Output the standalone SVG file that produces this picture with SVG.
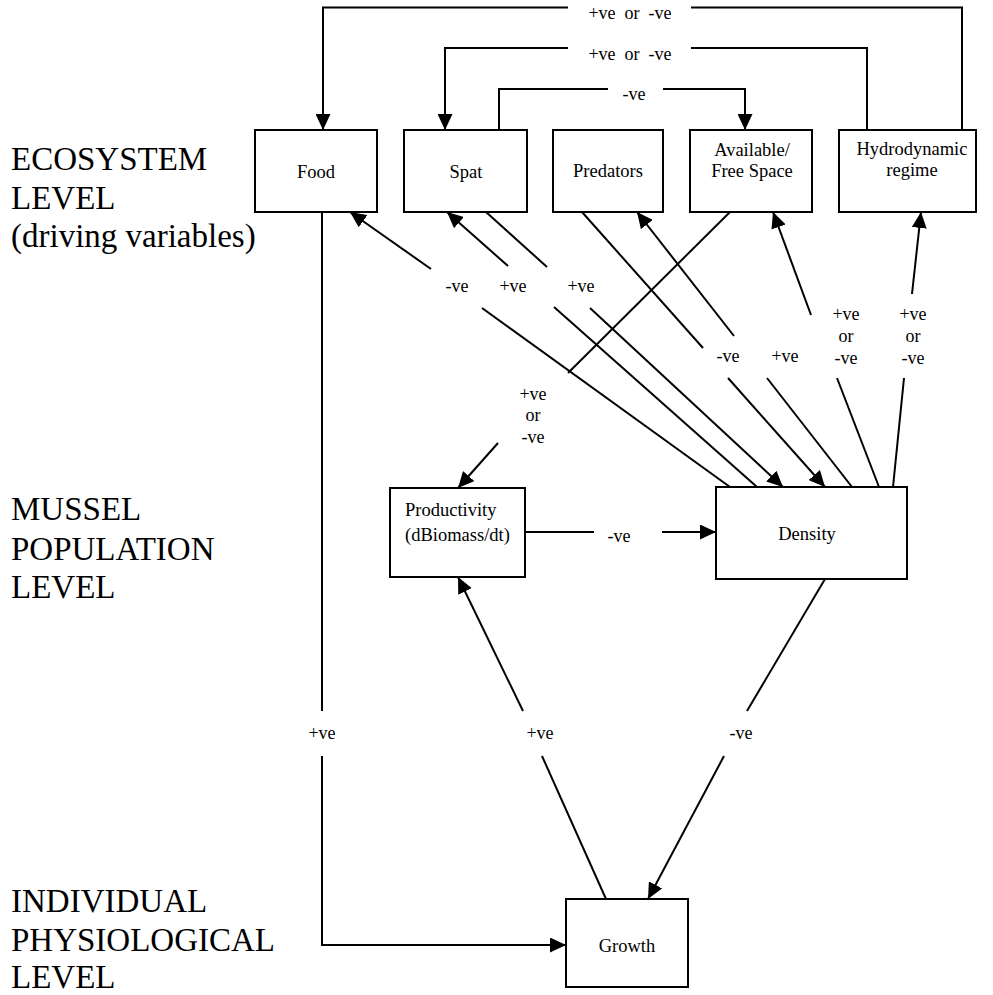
<svg xmlns="http://www.w3.org/2000/svg" width="993" height="995" viewBox="0 0 993 995">
<style>
.box{fill:#fff;stroke:#000;stroke-width:2}
.nt{font-family:"Liberation Serif","Times New Roman",serif;font-size:18.5px;fill:#000;text-anchor:middle}
.lt{font-family:"Liberation Serif","Times New Roman",serif;font-size:18px;fill:#000;text-anchor:middle}
.big{font-family:"Liberation Serif","Times New Roman",serif;font-size:33px;fill:#000}
.c path{fill:none;stroke:#000;stroke-width:2}
</style>
<defs>
<marker id="arr" viewBox="0 0 16 15" refX="16" refY="7.5" markerWidth="16" markerHeight="15" markerUnits="userSpaceOnUse" orient="auto">
<path d="M0,0 L16,7.5 L0,15 z" fill="#000"/>
</marker>
</defs>
<rect width="993" height="995" fill="#fff"/>

<g id="level-labels">
<text class="big" x="11" y="170">ECOSYSTEM</text>
<text class="big" x="11" y="209">LEVEL</text>
<text class="big" x="11" y="247">(driving variables)</text>
<text class="big" x="11" y="520">MUSSEL</text>
<text class="big" x="11" y="560">POPULATION</text>
<text class="big" x="11" y="598">LEVEL</text>
<text class="big" x="11" y="912">INDIVIDUAL</text>
<text class="big" x="11" y="951">PHYSIOLOGICAL</text>
<text class="big" x="11" y="988">LEVEL</text>
</g>

<g id="connectors" class="c">
<g id="hydro-food">
<path d="M962,130 V7.5 H691"/>
<path d="M568,7.5 H323 V130" marker-end="url(#arr)"/>
<text class="lt" x="630" y="19" xml:space="preserve">+ve  or  -ve</text>
</g>
<g id="hydro-spat">
<path d="M867,130 V48 H691"/>
<path d="M568,48 H445 V130" marker-end="url(#arr)"/>
<text class="lt" x="630" y="60" xml:space="preserve">+ve  or  -ve</text>
</g>
<g id="spat-space">
<path d="M499,130 V89 H608"/>
<path d="M663,89 H745 V130" marker-end="url(#arr)"/>
<text class="lt" x="634" y="100">-ve</text>
</g>
<g id="density-food">
<path d="M730,487 L482,308"/>
<path d="M431,269 L350,212" marker-end="url(#arr)"/>
<text class="lt" x="457" y="292">-ve</text>
</g>
<g id="density-spat">
<path d="M757,487 L554,307"/>
<path d="M508,266 L447,212" marker-end="url(#arr)"/>
<text class="lt" x="513" y="292">+ve</text>
</g>
<g id="spat-density">
<path d="M486,212 L547,267"/>
<path d="M590,308 L783,487" marker-end="url(#arr)"/>
<text class="lt" x="581" y="292">+ve</text>
</g>
<g id="predators-density">
<path d="M582,212 L703,348"/>
<path d="M728,378 L825,487" marker-end="url(#arr)"/>
<text class="lt" x="728" y="362">-ve</text>
</g>
<g id="density-predators">
<path d="M852,487 L767,378"/>
<path d="M734,336 L637,212" marker-end="url(#arr)"/>
<text class="lt" x="785" y="362">+ve</text>
</g>
<g id="density-space">
<path d="M879,487 L837,378"/>
<path d="M811,315 L773,212" marker-end="url(#arr)"/>
<text class="lt" x="846" y="320">+ve</text>
<text class="lt" x="846" y="342">or</text>
<text class="lt" x="846" y="364">-ve</text>
</g>
<g id="density-hydro">
<path d="M893,487 L904,378"/>
<path d="M912,294 L921,212" marker-end="url(#arr)"/>
<text class="lt" x="913" y="320">+ve</text>
<text class="lt" x="913" y="342">or</text>
<text class="lt" x="913" y="364">-ve</text>
</g>
<g id="space-productivity">
<path d="M730,212 L568,373"/>
<path d="M498,443 L458,488" marker-end="url(#arr)"/>
<text class="lt" x="533" y="400">+ve</text>
<text class="lt" x="533" y="421">or</text>
<text class="lt" x="533" y="443">-ve</text>
</g>
<g id="productivity-density">
<path d="M525,532 H594"/>
<path d="M662,532 H716" marker-end="url(#arr)"/>
<text class="lt" x="619" y="542">-ve</text>
</g>
<g id="density-growth">
<path d="M825,579 L747,711"/>
<path d="M724,756 L648,899" marker-end="url(#arr)"/>
<text class="lt" x="741" y="739">-ve</text>
</g>
<g id="growth-productivity">
<path d="M606,899 L542,756"/>
<path d="M523,711 L458,577" marker-end="url(#arr)"/>
<text class="lt" x="540" y="739">+ve</text>
</g>
<g id="food-growth">
<path d="M322,212 V711"/>
<path d="M322,756 V945 H566" marker-end="url(#arr)"/>
<text class="lt" x="322" y="739">+ve</text>
</g>
</g>

<g id="food"><rect class="box" x="255" y="130" width="122" height="82"/><text class="nt" x="316" y="178">Food</text></g>
<g id="spat"><rect class="box" x="404" y="130" width="123" height="82"/><text class="nt" x="466" y="178">Spat</text></g>
<g id="predators"><rect class="box" x="553" y="130" width="110" height="82"/><text class="nt" x="608" y="177">Predators</text></g>
<g id="space"><rect class="box" x="690" y="130" width="122" height="82"/><text class="nt" x="752" y="156">Available/</text><text class="nt" x="752" y="177">Free Space</text></g>
<g id="hydro"><rect class="box" x="839" y="130" width="137" height="82"/><text class="nt" x="912" y="155">Hydrodynamic</text><text class="nt" x="912" y="176">regime</text></g>
<g id="productivity"><rect class="box" x="390" y="488" width="135" height="89"/><text class="nt" x="405" y="516" style="text-anchor:start">Productivity</text><text class="nt" x="405" y="541" style="text-anchor:start">(dBiomass/dt)</text></g>
<g id="density"><rect class="box" x="716" y="487" width="191" height="92"/><text class="nt" x="807" y="540">Density</text></g>
<g id="growth"><rect class="box" x="566" y="899" width="122" height="88"/><text class="nt" x="627" y="952">Growth</text></g>
</svg>
